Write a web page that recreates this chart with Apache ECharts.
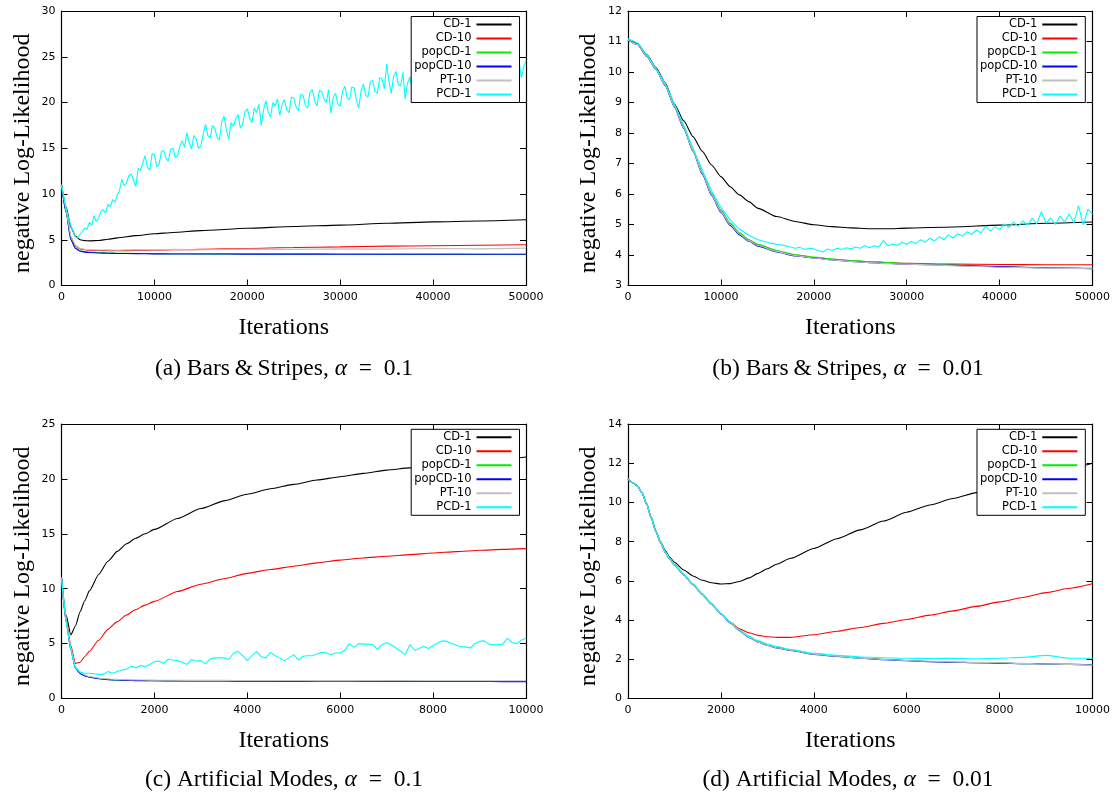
<!DOCTYPE html>
<html>
<head>
<meta charset="utf-8">
<script src="https://cdn.jsdelivr.net/npm/echarts@6/dist/echarts.min.js"></script>
<style>
html,body{margin:0;padding:0;background:#fff;}
#chart{width:1117px;height:794px;}
</style>
</head>
<body>
<div id="chart"></div>
<script>
// ---------- DATA ----------
const seriesNames = ['CD-1','CD-10','popCD-1','popCD-10','PT-10','PCD-1'];
const captions = ['(a) Bars\u2009&\u2009Stripes, {i|α}\u2002=\u20020.1','(b) Bars\u2009&\u2009Stripes, {i|α}\u2002=\u20020.01','(c) Artificial Modes, {i|α}\u2002=\u20020.1','(d) Artificial Modes, {i|α}\u2002=\u20020.01'];

// Panel (a): Bars & Stripes, alpha = 0.1
const xA = [0,500,1000,1500,2000,2500,3000,4000,5000,6000,8000,10000,12000,15000,20000,25000,30000,35000,40000,45000,50000];
const cd1A = [11,8.6,6.4,5.4,5.0,4.9,4.88,4.92,5.05,5.2,5.45,5.65,5.8,6.0,6.25,6.45,6.6,6.8,6.95,7.05,7.18];
const cd10A = [11,8.2,5.3,4.3,4.0,3.9,3.85,3.82,3.8,3.8,3.82,3.85,3.9,3.95,4.05,4.15,4.22,4.3,4.35,4.4,4.45];
const popcd1A = [11,8.0,5.1,4.1,3.8,3.7,3.65,3.6,3.55,3.52,3.5,3.48,3.47,3.46,3.45,3.44,3.44,3.43,3.43,3.42,3.42];
const popcd10A = [11,8.0,5.0,4.05,3.75,3.65,3.6,3.55,3.52,3.5,3.48,3.46,3.45,3.44,3.43,3.43,3.42,3.42,3.42,3.41,3.41];
const pt10A = [11,8.2,5.4,4.4,4.05,3.95,3.9,3.88,3.9,3.85,3.92,3.88,3.95,3.9,3.98,3.95,4.0,3.97,4.05,4.0,4.08];
const pcd1A_step = 250;
const pcd1A = [11.0,9.6,8.4,7.4,6.6,5.9,5.3,5.2,5.6,5.9,6.3,6.1,6.9,6.6,7.6,7.0,7.4,8.1,8.3,7.9,
  8.9,8.6,9.4,9.1,9.9,10.4,11.6,10.9,11.2,12.0,12.2,11.5,10.8,12.8,12.6,13.4,14.2,12.9,12.6,14.4,
  14.3,13.0,13.2,14.6,14.8,13.9,13.6,14.9,15.0,14.0,14.2,15.3,15.8,15.1,16.7,15.6,14.9,16.4,16.0,15.0,
  15.2,16.5,17.6,16.4,16.1,17.5,17.2,16.2,15.9,17.9,18.5,17.0,16.0,17.8,17.4,18.2,18.7,17.2,17.6,19.0,
  19.3,18.3,17.8,19.4,18.9,19.8,17.5,19.2,20.2,19.0,18.4,20.0,19.6,20.4,18.6,19.8,20.3,19.2,18.9,20.6,
  20.5,19.5,19.1,20.9,20.8,19.7,19.4,21.1,21.4,20.2,19.6,21.3,21.2,20.4,20.0,21.4,18.8,20.6,21.0,19.8,
  19.6,21.2,21.8,20.5,20.3,21.7,21.6,20.2,19.4,21.3,22.0,20.8,20.6,22.3,22.4,21.2,21.0,22.7,22.6,21.5,
  24.2,22.3,21.0,22.9,23.4,22.0,21.8,23.3,20.4,22.1,22.8,21.6,21.3,22.9,23.2,21.8,20.6,22.4,22.9,21.5,
  21.7,23.0,23.6,22.1,22.3,23.4,23.2,22.0,21.8,23.3,23.9,22.7,22.6,23.8,23.4,22.3,22.4,23.6,24.0,22.8,
  22.9,24.1,23.7,22.6,22.8,24.0,24.3,23.0,23.1,24.2,23.9,22.9,22.8,24.1,24.4,23.2,23.4,24.5,22.7,23.9,24.6];

// Panel (b): Bars & Stripes, alpha = 0.01
const xB = [0,1000,2000,3000,4000,5000,6000,7000,8000,9000,10000,11000,12000,13000,14000,16000,18000,20000,22000,24000,26000,28000,30000,35000,40000,45000,50000];
const cd1B = [11.05,10.94,10.58,10.15,9.65,8.95,8.4,7.88,7.4,6.95,6.57,6.24,5.97,5.75,5.53,5.26,5.1,4.99,4.93,4.89,4.86,4.86,4.88,4.92,4.98,5.04,5.08];
const cd10B = [11.05,10.92,10.55,10.1,9.6,8.9,8.2,7.43,6.7,6.0,5.45,5.02,4.7,4.49,4.33,4.13,4.0,3.92,3.86,3.81,3.78,3.75,3.73,3.7,3.69,3.68,3.68];
const popcd1B = [11.05,10.92,10.55,10.1,9.6,8.9,8.2,7.45,6.72,6.03,5.48,5.05,4.73,4.51,4.35,4.15,4.01,3.93,3.87,3.82,3.78,3.75,3.72,3.67,3.62,3.58,3.56];
const popcd10B = [11.05,10.9,10.52,10.08,9.55,8.85,8.15,7.4,6.65,5.95,5.4,4.97,4.66,4.45,4.29,4.1,3.97,3.9,3.84,3.79,3.75,3.72,3.7,3.66,3.62,3.58,3.55];
const pt10B = [11.05,10.9,10.53,10.09,9.57,8.87,8.17,7.42,6.68,5.98,5.43,5.0,4.69,4.47,4.31,4.12,3.98,3.9,3.84,3.79,3.75,3.72,3.7,3.65,3.6,3.57,3.55];
const pcd1B_headX = [0,1000,2000,3000,4000,5000,6000,7000,8000,9000,10000,11000,12000,13000,14000];
const pcd1B_head = [11.1,10.95,10.58,10.12,9.62,8.95,8.25,7.5,6.78,6.1,5.56,5.15,4.85,4.65,4.5];
const pcd1B_tailStart = 15000, pcd1B_step = 500;
const pcd1B_tail = [4.42,4.38,4.35,4.33,4.3,4.26,4.22,4.25,4.18,4.22,4.2,4.15,4.1,4.2,4.15,4.22,4.18,4.24,4.2,4.26,
  4.22,4.3,4.24,4.3,4.26,4.48,4.3,4.36,4.32,4.42,4.35,4.44,4.38,4.5,4.42,4.55,4.46,4.6,4.5,4.66,
  4.56,4.7,4.62,4.76,4.68,4.82,4.72,4.95,4.78,4.92,4.84,5.02,4.9,5.08,4.94,5.12,4.98,5.2,5.02,5.42,
  5.05,5.22,5.0,5.28,5.08,5.35,5.05,5.62,4.98,5.5,5.35];

// Panel (c): Artificial Modes, alpha = 0.1
const xC = [0,100,200,300,400,500,600,800,1000,1200,1400,1600,1800,2000,2500,3000,3500,4000,4500,5000,5500,6000,6500,7000,7500,8000,8500,9000,9500,10000];
const cd1C = [11,7.6,5.8,6.6,7.9,8.9,9.8,11.3,12.5,13.4,14.1,14.6,15.0,15.4,16.4,17.3,18.0,18.6,19.1,19.5,19.9,20.2,20.5,20.8,21.0,21.2,21.4,21.6,21.8,22.0];
const cd10C = [11,7.2,4.8,3.2,3.3,3.8,4.3,5.3,6.3,7.0,7.6,8.1,8.5,8.85,9.75,10.4,10.9,11.4,11.75,12.05,12.35,12.6,12.8,12.95,13.1,13.25,13.38,13.5,13.58,13.65];
const popcd1C = [11,7.0,4.5,2.8,2.3,2.1,1.97,1.83,1.74,1.7,1.67,1.65,1.63,1.62,1.61,1.6,1.6,1.59,1.59,1.58,1.58,1.58,1.57,1.57,1.57,1.56,1.56,1.56,1.55,1.55];
const popcd10C = [11,7.0,4.45,2.75,2.25,2.06,1.94,1.8,1.72,1.68,1.65,1.63,1.62,1.61,1.6,1.59,1.59,1.58,1.58,1.57,1.57,1.57,1.56,1.56,1.56,1.55,1.55,1.55,1.54,1.54];
const pt10C = [11,7.1,4.6,2.9,2.4,2.15,2.0,1.86,1.78,1.74,1.71,1.69,1.68,1.67,1.66,1.65,1.65,1.64,1.64,1.64,1.63,1.63,1.63,1.62,1.62,1.62,1.62,1.61,1.61,1.61];
const pcd1C_step = 100;
const pcd1C = [11,7.0,4.5,2.8,2.4,2.3,2.3,2.25,2.2,2.2,2.45,2.3,2.45,2.6,2.65,2.95,2.8,3.0,2.9,3.1,
  3.35,3.4,3.2,3.6,3.5,3.45,3.3,3.1,3.55,3.4,3.45,3.15,3.6,3.7,3.7,3.7,3.55,4.1,4.3,3.9,
  3.45,3.9,4.3,3.8,3.7,4.2,3.9,3.7,3.45,3.7,4.0,3.5,3.85,3.9,3.9,4.05,4.2,4.15,4.0,4.15,
  4.15,4.4,5.0,4.65,5.0,4.95,4.95,4.9,4.5,4.9,5.1,4.9,4.6,4.3,4.0,4.9,4.4,4.55,4.75,4.55,
  4.8,5.05,5.25,5.2,5.0,4.85,4.7,4.7,4.6,5.0,5.2,5.25,4.95,4.9,4.9,4.95,5.5,5.1,5.0,5.3,5.5];

// Panel (d): Artificial Modes, alpha = 0.01
const xD = [0,100,200,300,400,500,600,700,800,900,1000,1200,1400,1600,1800,2000,2200,2400,2600,2800,3000,3200,3500,4000,4500,5000,5500,6000,6500,7000,7500,8000,8500,9000,9500,10000];
const cd1D = [11.2,11.0,10.85,10.5,9.95,9.25,8.55,8.0,7.55,7.2,6.95,6.55,6.25,6.03,5.9,5.84,5.86,5.97,6.15,6.38,6.62,6.85,7.15,7.65,8.15,8.6,9.05,9.5,9.87,10.2,10.5,10.8,11.15,11.45,11.75,12.0];
const cd10D = [11.2,11.0,10.85,10.5,9.92,9.22,8.52,7.97,7.47,7.12,6.82,6.32,5.82,5.32,4.82,4.32,3.9,3.55,3.35,3.22,3.15,3.12,3.12,3.25,3.43,3.62,3.83,4.03,4.25,4.47,4.7,4.93,5.15,5.4,5.62,5.85];
const popcd1D = [11.2,11.0,10.85,10.5,9.92,9.22,8.52,7.97,7.47,7.12,6.82,6.32,5.82,5.32,4.82,4.32,3.88,3.48,3.15,2.91,2.73,2.61,2.48,2.28,2.17,2.07,2.0,1.94,1.89,1.86,1.83,1.81,1.78,1.76,1.74,1.72];
const popcd10D = [11.2,11.0,10.85,10.5,9.9,9.2,8.5,7.95,7.45,7.1,6.8,6.3,5.8,5.3,4.8,4.3,3.85,3.45,3.12,2.88,2.7,2.58,2.45,2.25,2.15,2.05,1.98,1.93,1.88,1.85,1.82,1.8,1.78,1.76,1.74,1.72];
const pt10D = [11.2,11.0,10.85,10.5,9.9,9.2,8.5,7.95,7.45,7.1,6.8,6.3,5.8,5.3,4.8,4.3,3.86,3.46,3.13,2.89,2.71,2.59,2.46,2.26,2.16,2.06,1.99,1.94,1.9,1.87,1.84,1.82,1.79,1.76,1.74,1.71];
const pcd1D = [11.2,11.0,10.85,10.5,9.95,9.25,8.55,8.0,7.5,7.15,6.85,6.35,5.85,5.35,4.85,4.35,3.9,3.5,3.18,2.95,2.78,2.65,2.5,2.3,2.2,2.12,2.08,2.05,2.04,2.05,2.03,2.05,2.1,2.2,2.05,2.05];

// ---------- CHART ----------
const colors = {'CD-1':'#000000','CD-10':'#ff0000','popCD-1':'#00ee00','popCD-10':'#0000ff','PT-10':'#c0c0c0','PCD-1':'#00ffff'};
const serif = '"Liberation Serif","DejaVu Serif",serif';
const sans = '"DejaVu Sans",sans-serif';

const grids = [
  {left:61.5, top:11, width:464.5, height:274.5},
  {left:628, top:11, width:464.5, height:274.5},
  {left:61.5, top:424, width:464.5, height:274.5},
  {left:628, top:424, width:464.5, height:274.5}
];
const xRanges = [[0,50000,10000],[0,50000,10000],[0,10000,2000],[0,10000,2000]];
const yRanges = [[0,30,5],[3,12,1],[0,25,5],[0,14,2]];

function zip(xs, ys){ return ys.map((y,i)=>[xs[i], y]); }
function stepped(x0, step, ys){ return ys.map((y,i)=>[x0 + i*step, y]); }

const panelData = [
  {'CD-1':zip(xA,cd1A),'CD-10':zip(xA,cd10A),'popCD-1':zip(xA,popcd1A),'popCD-10':zip(xA,popcd10A),'PT-10':zip(xA,pt10A),'PCD-1':stepped(0,pcd1A_step,pcd1A)},
  {'CD-1':zip(xB,cd1B),'CD-10':zip(xB,cd10B),'popCD-1':zip(xB,popcd1B),'popCD-10':zip(xB,popcd10B),'PT-10':zip(xB,pt10B),'PCD-1':zip(pcd1B_headX,pcd1B_head).concat(stepped(pcd1B_tailStart,pcd1B_step,pcd1B_tail))},
  {'CD-1':zip(xC,cd1C),'CD-10':zip(xC,cd10C),'popCD-1':zip(xC,popcd1C),'popCD-10':zip(xC,popcd10C),'PT-10':zip(xC,pt10C),'PCD-1':stepped(0,pcd1C_step,pcd1C)},
  {'CD-1':zip(xD,cd1D),'CD-10':zip(xD,cd10D),'popCD-1':zip(xD,popcd1D),'popCD-10':zip(xD,popcd10D),'PT-10':zip(xD,pt10D),'PCD-1':zip(xD,pcd1D)}
];
const noisy = [{'PCD-1':1,'PT-10':1},{'PCD-1':1},{'PCD-1':1},{}];

const xAxes = [], yAxes = [], series = [], legends = [], titles = [];
const tickStyle = {show:true, inside:true, length:6, lineStyle:{color:'#000', width:1}};
const lineStyle = {show:true, lineStyle:{color:'#000', width:1.2}};
const legendRight = [597.5, 31.7, 597.5, 31.7];
const legendTop = [16.5, 16.5, 429.3, 429.3];
const captionX = [279, 843, 279, 843];
const captionY = [352, 352, 763, 763];
const plain = v => String(v);

grids.forEach((g, gi) => {
  const [x0,x1,xi] = xRanges[gi];
  const [y0,y1,yi] = yRanges[gi];
  xAxes.push({type:'value', gridIndex:gi, position:'bottom', min:x0, max:x1, interval:xi,
    axisLine:Object.assign({onZero:false}, lineStyle), axisTick:tickStyle, splitLine:{show:false},
    axisLabel:{fontFamily:sans, fontSize:11, color:'#000', margin:6, formatter:plain},
    name:'Iterations', nameLocation:'middle', nameGap:30,
    nameTextStyle:{fontFamily:serif, fontSize:24, color:'#000', padding:[0,20,0,0]}});
  xAxes.push({type:'value', gridIndex:gi, position:'top', min:x0, max:x1, interval:xi,
    axisLine:Object.assign({onZero:false}, lineStyle), axisTick:tickStyle, splitLine:{show:false},
    axisLabel:{show:false}});
  yAxes.push({type:'value', gridIndex:gi, position:'left', min:y0, max:y1, interval:yi,
    axisLine:Object.assign({onZero:false}, lineStyle), axisTick:tickStyle, splitLine:{show:false},
    axisLabel:{fontFamily:sans, fontSize:11, color:'#000', margin:6, formatter:plain},
    name:'negative Log-Likelihood', nameLocation:'middle', nameGap:27,
    nameTextStyle:{fontFamily:serif, fontSize:24, color:'#000', padding:[0,10,0,0]}});
  yAxes.push({type:'value', gridIndex:gi, position:'right', min:y0, max:y1, interval:yi,
    axisLine:Object.assign({onZero:false}, lineStyle), axisTick:tickStyle, splitLine:{show:false},
    axisLabel:{show:false}});
  seriesNames.forEach(name => {
    series.push({
      type:'line', name:name, xAxisIndex:gi*2, yAxisIndex:gi*2,
      data:panelData[gi][name], showSymbol:false, symbol:'none',
      smooth: noisy[gi][name] ? false : 0.2, smoothMonotone: noisy[gi][name] ? undefined : 'x',
      lineStyle:{color:colors[name], width:1.1}, itemStyle:{color:colors[name]},
      emphasis:{disabled:true}, silent:true
    });
  });
  legends.push({
    orient:'vertical', align:'right', right:legendRight[gi], top:legendTop[gi],
    itemWidth:35, itemHeight:2, icon:'rect', itemGap:0, padding:[1,8,1,3],
    borderColor:'#000', borderWidth:1, backgroundColor:'#fff', selectedMode:false,
    textStyle:{fontFamily:sans, fontSize:11.5, color:'#000', lineHeight:14},
    data:seriesNames.slice()
  });
  titles.push({
    text:captions[gi], left:captionX[gi], top:captionY[gi], textAlign:'center',
    textStyle:{fontFamily:serif, fontSize:23.5, fontWeight:'normal', color:'#000',
      rich:{i:{fontFamily:serif, fontSize:23.5, fontStyle:'italic', color:'#000'}}}
  });
});

const chart = echarts.init(document.getElementById('chart'), null, {renderer:'canvas'});
chart.setOption({
  animation:false,
  backgroundColor:'#fff',
  title:titles,
  grid:grids,
  xAxis:xAxes,
  yAxis:yAxes,
  legend:legends,
  series:series
});
</script>
</body>
</html>
